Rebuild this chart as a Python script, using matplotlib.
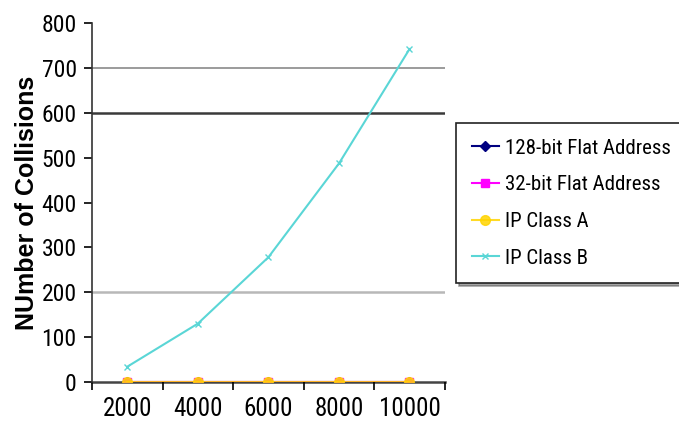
import numpy as np
import matplotlib
matplotlib.use("Agg")
import matplotlib.pyplot as plt

# ── Data ──────────────────────────────────────────────────────────────────────
categories = ["2000", "4000", "6000", "8000", "10000"]
flat128 = [0, 0, 0, 0, 0]
flat32 = [0, 0, 0, 0, 0]
class_a = [0, 0, 0, 0, 0]
class_b = [34, 130, 278, 487, 742]
grid_levels = [200, 600, 700]
grid_colors = ["#b8b8b8", "#3a3a3a", "#8a8a8a"]

plt.rcParams["font.family"] = ["Roboto Condensed", "Liberation Sans", "DejaVu Sans"]

fig = plt.figure(figsize=(6.79, 4.36), dpi=100)
ax = fig.add_axes([0.1355, 0.124, 0.5195, 0.823])

x = np.arange(len(categories))
for lvl, c in zip(grid_levels, grid_colors):
    ax.axhline(lvl, color=c, lw=1.8 if lvl != 700 else 1.2, zorder=0)

ax.plot(x, flat128, color="#000080", marker="D", ms=5, lw=1.5, label="128-bit Flat Address")
ax.plot(x, flat32, color="#ff00ff", marker="s", ms=6, lw=1.5, label="32-bit Flat Address")
ax.plot(x, class_a, color="#ffd400", marker="o", ms=7, lw=1.5, alpha=0.85, label="IP Class A")
ax.plot(x, class_b, color="#5ad6d6", marker="x", ms=5, lw=1.5, label="IP Class B")

ax.set_xlim(-0.5, len(categories) - 0.5)
ax.set_ylim(0, 800)
ax.set_yticks(np.arange(0, 801, 100))
ax.set_xticks(x)
ax.set_xticklabels(categories)
ax.set_xticks(np.arange(-0.5, len(categories), 1.0), minor=True)
ax.tick_params(axis="x", which="major", length=0, pad=11, labelsize=18)
ax.tick_params(axis="x", which="minor", length=6, width=1.2)
ax.tick_params(axis="y", length=6, width=1.2, labelsize=17, pad=5)

for s in ["top", "right"]:
    ax.spines[s].set_visible(False)
ax.spines["left"].set_color("#333333")
ax.spines["left"].set_linewidth(1.2)
ax.spines["bottom"].set_color("#444444")
ax.spines["bottom"].set_linewidth(1.8)
ax.spines["bottom"].set_zorder(1)

ax.set_ylabel("NUmber of Collisions", fontsize=18, fontweight="bold",
              family=["Liberation Sans", "DejaVu Sans"], labelpad=2)

leg = ax.legend(loc="upper left", bbox_to_anchor=(0.6716, 0.718),
                bbox_transform=fig.transFigure, fontsize=15, frameon=True,
                fancybox=False, shadow=True, edgecolor="#222222",
                labelspacing=0.85, handlelength=1.3, handletextpad=0.3,
                borderpad=0.75, borderaxespad=0)
leg.get_frame().set_linewidth(1.2)

plt.savefig("out.png", dpi=100)
